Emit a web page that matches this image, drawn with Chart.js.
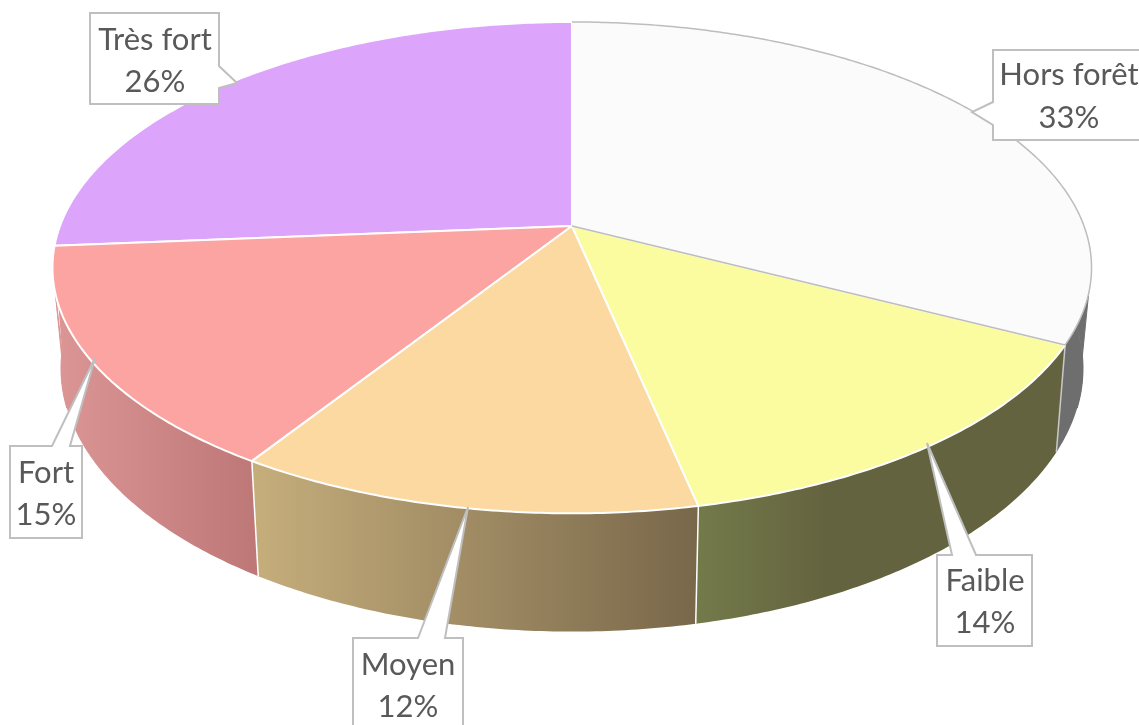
<!DOCTYPE html>
<html>
<head>
<meta charset="utf-8">
<style>
  html, body { margin: 0; padding: 0; background: #fff; overflow: hidden; }
  canvas { display: block; }
</style>
<script src="https://cdn.jsdelivr.net/npm/chart.js@4"></script>
</head>
<body>
<canvas id="pie3d" width="1139" height="725"></canvas>
<script>
const categories = ['Hors forêt', 'Faible', 'Moyen', 'Fort', 'Très fort'];
const shares = [32.6, 14.1, 12.3, 14.7, 26.3];

const topColors = ['#fbfbfb', '#fbfba0', '#fbd9a1', '#fba4a2', '#dca4fa'];
const edgeColors = ['#bdbdbd', '#ffffff', '#ffffff', '#ffffff', '#ffffff'];
// couleur des parois : gauche puis droite
const wallLeft = ['#6e6e6e', '#737a4a', '#c6ae7c', '#dc9695', '#9a73b0'];
const wallRight = ['#6e6e6e', '#64633f', '#78674a', '#bf7878', '#9a73b0'];

// perspective du disque : face du dessus et face du dessous
const topFace = { cx: 572, cy: 226, a: 512, b: 238.6, k: 0.1695 };
const bottomFace = { cx: 572, cy: 325, a: 504, b: 256, k: 0.165 };

// boites des etiquettes
const callouts = [
  { x: 993, y: 50, w: 156, h: 90, tip: [972, 112], base: [[993, 102], [993, 125]], tx: 1069, lines: [85, 128] },
  { x: 937, y: 555, w: 95, h: 91, tip: [927, 443], base: [[976, 555], [952, 555]], tx: 985, lines: [591, 633] },
  { x: 353, y: 638, w: 110, h: 100, tip: [468, 507], base: [[445, 638], [418, 638]], tx: 408, lines: [675, 717] },
  { x: 10, y: 446, w: 72, h: 92, tip: [95, 358], base: [[70, 446], [52, 446]], tx: 46, lines: [483, 525] },
  { x: 90, y: 13, w: 129, h: 91, tip: [237, 83], base: [[219, 88], [219, 66]], tx: 155, lines: [50, 92] }
];

function project(face, angle) {
  // angle du controleur : -PI/2 en haut, sens horaire
  const u = Math.cos(angle), v = Math.sin(angle);
  const w = 1 - face.k * v;
  return [face.cx + face.a * u / w, face.cy + face.b * v / w];
}

function traceArc(ctx, face, from, to, first) {
  const steps = Math.max(2, Math.ceil(Math.abs(to - from) / 0.01));
  for (let s = 0; s <= steps; s++) {
    const p = project(face, from + (to - from) * s / steps);
    if (s === 0 && first) ctx.moveTo(p[0], p[1]);
    else ctx.lineTo(p[0], p[1]);
  }
}

function wallGradient(ctx, arc, i) {
  const xs = [];
  for (let s = 0; s <= 40; s++) {
    xs.push(project(topFace, arc.startAngle + (arc.endAngle - arc.startAngle) * s / 40)[0]);
  }
  const grad = ctx.createLinearGradient(Math.min(...xs), 0, Math.max(...xs), 0);
  grad.addColorStop(0, wallLeft[i]);
  grad.addColorStop(i === 1 ? 0.35 : 1, wallRight[i]);
  grad.addColorStop(1, wallRight[i]);
  return grad;
}

function drawWall(ctx, arc, i) {
  // seule la partie tournee vers nous se voit
  const from = Math.max(arc.startAngle, 0);
  const to = Math.min(arc.endAngle, Math.PI - 0.1);
  if (to <= from) return;
  const grad = wallGradient(ctx, arc, i);
  ctx.fillStyle = grad;
  ctx.beginPath();
  traceArc(ctx, topFace, from, to, true);
  traceArc(ctx, bottomFace, to, from, false);
  ctx.closePath();
  ctx.fill();
  // raccord tangent entre les deux faces sur les bords du disque
  const side = Math.asin(0.27);
  const ends = [];
  if (from < side) ends.push([side, from, side + 0.04]);
  if (to > Math.PI - side) ends.push([Math.PI - side, to, Math.PI - side - 0.04]);
  ends.forEach(e => {
    const t = project(topFace, e[0]);
    ctx.beginPath();
    ctx.moveTo(t[0], t[1]);
    traceArc(ctx, bottomFace, e[1], e[2], false);
    ctx.closePath();
    ctx.fill();
    ctx.strokeStyle = grad;
    ctx.lineWidth = 1;
    ctx.stroke();
  });
}

function drawWallEdge(ctx, angle, color) {
  const a = project(topFace, angle), b = project(bottomFace, angle);
  ctx.beginPath();
  ctx.moveTo(a[0], a[1]);
  ctx.lineTo(b[0], b[1]);
  ctx.strokeStyle = color;
  ctx.lineWidth = 1.5;
  ctx.stroke();
}

function drawSlice(ctx, arc, closed) {
  ctx.beginPath();
  ctx.moveTo(topFace.cx, topFace.cy);
  traceArc(ctx, topFace, arc.startAngle, arc.endAngle, false);
  ctx.closePath();
  ctx.fillStyle = arc.options.backgroundColor;
  ctx.fill();
  // la tranche blanche n'a pas de trait sur son rayon du haut
  if (!closed) {
    ctx.beginPath();
    traceArc(ctx, topFace, arc.startAngle, arc.endAngle, true);
    ctx.lineTo(topFace.cx, topFace.cy);
  }
  ctx.strokeStyle = arc.options.borderColor;
  ctx.lineWidth = arc.options.borderWidth;
  ctx.lineJoin = 'round';
  ctx.stroke();
}

function drawCallout(ctx, c, i, values) {
  const pts = [[c.x + c.w, c.y], [c.x + c.w, c.y + c.h], [c.x, c.y + c.h]];
  const b = c.base;
  // la pointe s'insere sur le cote ou se trouve sa base
  const order = [];
  if (b[0][1] === c.y) order.push(b[1], c.tip, b[0]);
  order.push(pts[0]);
  if (b[0][0] === c.x + c.w) order.push(b[1], c.tip, b[0]);
  order.push(pts[1], pts[2]);
  if (b[0][0] === c.x) order.push(b[1], c.tip, b[0]);
  ctx.beginPath();
  ctx.moveTo(c.x, c.y);
  order.forEach(p => ctx.lineTo(p[0], p[1]));
  ctx.closePath();
  ctx.fillStyle = '#ffffff';
  ctx.fill();
  ctx.strokeStyle = '#bfbfbf';
  ctx.lineWidth = 2;
  ctx.lineJoin = 'miter';
  ctx.stroke();

  ctx.fillStyle = '#595959';
  ctx.font = '31px Lato, "Open Sans", sans-serif';
  ctx.textAlign = 'center';
  ctx.textBaseline = 'alphabetic';
  ctx.fillText(categories[i], c.tx, c.lines[0]);
  ctx.fillText(Math.round(values[i]) + '%', c.tx, c.lines[1]);
}

// dessine le camembert en perspective a partir des arcs calcules par Chart.js
const pie3dPlugin = {
  id: 'pie3d',
  beforeDatasetDraw(chart, args) {
    const ctx = chart.ctx;
    const arcs = args.meta.data;
    ctx.save();
    arcs.forEach((arc, i) => drawWall(ctx, arc, i));
    [1, 2, 3].forEach(i => drawWallEdge(ctx, arcs[i].startAngle, i === 1 ? '#c8c8c8' : '#ffffff'));
    // tranche blanche en dernier : son contour gris reste visible
    [4, 3, 2, 1].forEach(i => drawSlice(ctx, arcs[i], true));
    drawSlice(ctx, arcs[0], false);
    ctx.restore();
    return false;
  },
  afterDatasetsDraw(chart) {
    const ctx = chart.ctx;
    ctx.save();
    callouts.forEach((box, i) => drawCallout(ctx, box, i, shares));
    ctx.restore();
  }
};

new Chart(document.getElementById('pie3d').getContext('2d'), {
  type: 'pie',
  data: {
    labels: categories,
    datasets: [{
      data: shares,
      backgroundColor: topColors,
      borderColor: edgeColors,
      borderWidth: [1.5, 2, 2, 2, 2]
    }]
  },
  options: {
    responsive: false,
    animation: false,
    plugins: { legend: { display: false }, tooltip: { enabled: false } }
  },
  plugins: [pie3dPlugin]
});
</script>
</body>
</html>
